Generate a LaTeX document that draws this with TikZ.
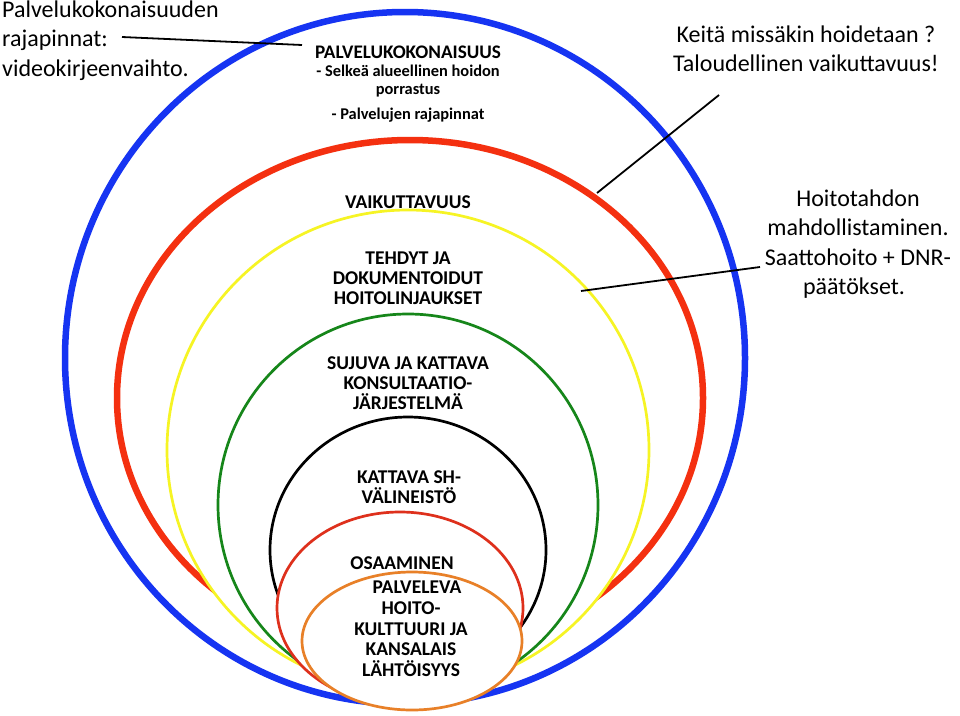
\documentclass[tikz,border=0pt]{standalone}
\usepackage{fontspec}
\setmainfont{Carlito}
\definecolor{cblue}{RGB}{22,52,242}
\definecolor{cred}{RGB}{244,48,16}
\definecolor{cyellow}{RGB}{246,244,36}
\definecolor{cgreen}{RGB}{22,134,26}
\definecolor{cred2}{RGB}{222,48,28}
\definecolor{corange}{RGB}{232,128,40}
\tikzset{
  thickring/.style={draw=#1, fill=white, line width=6.5pt},
  thinring/.style={draw=#1, fill=white, line width=2.7pt},
  bigtxt/.style={font=\fontsize{24}{29.3}\selectfont, inner sep=0pt},
  capstxt/.style={font=\bfseries\fontsize{19.5}{20}\selectfont, inner sep=0pt, align=center},
  subtxt/.style={font=\bfseries\fontsize{16.4}{18.5}\selectfont, inner sep=0pt, align=center},
  conn/.style={draw=black, line width=1.8pt}
}
\begin{document}
\begin{tikzpicture}[x=1pt,y=-1pt]
\useasboundingbox[fill=white] (0,0) rectangle (960,715);
% rings, outer to inner
\path[thickring=cblue] (405,358) ellipse [x radius=340, y radius=346];
\path[thickring=cred] (410,398) ellipse [x radius=293, y radius=258];
\path[thinring=cyellow] (408,450) ellipse [x radius=241, y radius=240];
\path[thinring=cgreen] (408,505) ellipse [x radius=190, y radius=191];
\path[thinring=black] (408,550) ellipse [x radius=138, y radius=133];
\path[thinring=cred2] (400,608) ellipse [x radius=123, y radius=96];
\path[thinring=corange] (412,641) ellipse [x radius=110, y radius=69];
% outside texts
\node[bigtxt, anchor=west, align=left] (rajat) at (2,40.5)
  {Palvelukokonaisuuden\\rajapinnat:\\videokirjeenvaihto.};
\node[bigtxt, align=center] (keita) at (806,49)
  {Keitä missäkin hoidetaan ?\\Taloudellinen vaikuttavuus!};
\node[bigtxt, align=center] (hoito) at (858,244)
  {Hoitotahdon\\mahdollistaminen.\\Saattohoito + DNR-\\päätökset.\hspace*{8pt}};
% inside texts
\node[font=\bfseries\fontsize{19.2}{21}\selectfont, inner sep=0pt] (ptitle) at (408,52) {PALVELUKOKONAISUUS};
\node[subtxt] (psub1) at (408,81) {- Selkeä alueellinen hoidon\\porrastus};
\node[subtxt] (psub2) at (408,115) {- Palvelujen rajapinnat};
\node[capstxt] (vaik) at (408,202) {VAIKUTTAVUUS};
\node[capstxt] (tehdyt) at (408,278) {TEHDYT JA\\DOKUMENTOIDUT\\HOITOLINJAUKSET};
\node[capstxt] (sujuva) at (408,383) {SUJUVA JA KATTAVA\\KONSULTAATIO-\\JÄRJESTELMÄ};
\node[capstxt] (sh) at (409,487) {KATTAVA SH-\\VÄLINEISTÖ};
\node[capstxt] (osaa) at (402,563) {OSAAMINEN};
\node[capstxt, font=\bfseries\fontsize{19.5}{20.7}\selectfont] (palv) at (411,629) {\hspace*{12pt}PALVELEVA\\HOITO-\\KULTTUURI JA\\KANSALAIS\\LÄHTÖISYYS};
% connectors
\coordinate (c1a) at (122,37);
\coordinate (c1b) at (302,45);
\coordinate (c2a) at (719,95);
\coordinate (c2b) at (597,193);
\coordinate (c3a) at (760,267);
\coordinate (c3b) at (581,291);
\draw[conn] (c1a) -- (c1b);
\draw[conn] (c2a) -- (c2b);
\draw[conn] (c3a) -- (c3b);
\end{tikzpicture}
\end{document}
